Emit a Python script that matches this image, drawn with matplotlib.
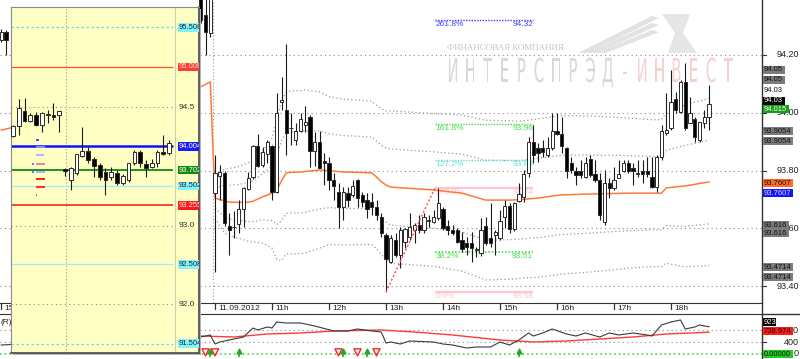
import matplotlib
matplotlib.use("Agg")
import matplotlib.pyplot as plt
import matplotlib.transforms as mtransforms
from matplotlib.patches import Rectangle, Polygon, PathPatch
from matplotlib.textpath import TextPath
from matplotlib.font_manager import FontProperties
import numpy as np

plt.rcParams['font.family'] = ['Liberation Sans', 'DejaVu Sans']

# ---------------- data: 5 min candles of 11.09.2012 (index 0 = 10:00) ----------------
opens = [93.722, 93.781, 93.792, 93.608, 93.604, 93.615, 93.667, 93.736, 93.778, 93.885,
         93.819, 93.857, 93.885, 93.726, 94.037, 94.010, 93.948, 93.906, 93.937, 93.958,
         93.986, 93.868, 93.899, 93.833, 93.826, 93.767, 93.726, 93.674, 93.722, 93.716,
         93.767, 93.716, 93.698, 93.691, 93.674, 93.639, 93.577, 93.484, 93.560, 93.508,
         93.553, 93.570, 93.594, 93.612, 93.594, 93.625, 93.622, 93.636, 93.667, 93.608,
         93.594, 93.594, 93.560, 93.550, 93.550, 93.525, 93.515, 93.608, 93.567, 93.577,
         93.567, 93.639, 93.678, 93.598, 93.695, 93.709, 93.792, 93.899, 93.878, 93.878,
         93.854, 93.878, 93.937, 93.927, 93.878, 93.826, 93.799, 93.799, 93.778, 93.840,
         93.788, 93.767, 93.622, 93.757, 93.740, 93.774, 93.799, 93.826, 93.809, 93.789,
         93.799, 93.799, 93.778, 93.743, 93.847, 93.930, 93.947, 94.048, 94.003, 94.107,
         93.965, 93.979, 93.906, 93.965, 93.986]
highs = [93.854, 93.820, 93.800, 93.653, 93.660, 93.698, 93.743, 93.795, 93.889, 93.927,
         93.881, 93.905, 93.889, 94.069, 94.124, 94.238, 94.000, 93.965, 94.000, 94.024,
         93.993, 93.934, 93.937, 93.861, 93.847, 93.792, 93.757, 93.743, 93.743, 93.767,
         93.771, 93.726, 93.722, 93.722, 93.698, 93.653, 93.584, 93.577, 93.584, 93.605,
         93.601, 93.653, 93.619, 93.646, 93.653, 93.646, 93.664, 93.740, 93.674, 93.629,
         93.612, 93.601, 93.588, 93.570, 93.588, 93.536, 93.636, 93.639, 93.688, 93.594,
         93.664, 93.698, 93.688, 93.691, 93.757, 93.802, 93.916, 93.958, 93.896, 93.906,
         93.916, 94.000, 94.000, 93.986, 93.881, 93.847, 93.812, 93.837, 93.847, 93.854,
         93.837, 93.792, 93.802, 93.774, 93.812, 93.837, 93.837, 93.837, 93.826, 93.837,
         93.837, 93.847, 93.847, 93.854, 93.958, 94.069, 94.148, 94.072, 94.114, 94.172,
         94.055, 93.986, 93.968, 94.010, 94.096]
lows = [93.449, 93.700, 93.608, 93.508, 93.567, 93.584, 93.605, 93.733, 93.771, 93.812,
        93.812, 93.826, 93.698, 93.722, 94.010, 93.854, 93.889, 93.889, 93.935, 93.934,
        93.812, 93.816, 93.809, 93.750, 93.733, 93.698, 93.601, 93.629, 93.674, 93.709,
        93.674, 93.674, 93.636, 93.646, 93.629, 93.570, 93.380, 93.480, 93.501, 93.463,
        93.532, 93.560, 93.550, 93.584, 93.584, 93.605, 93.619, 93.629, 93.594, 93.577,
        93.577, 93.550, 93.518, 93.508, 93.484, 93.501, 93.505, 93.543, 93.536, 93.508,
        93.560, 93.601, 93.584, 93.591, 93.691, 93.691, 93.778, 93.826, 93.830, 93.847,
        93.847, 93.871, 93.923, 93.861, 93.774, 93.792, 93.750, 93.774, 93.774, 93.778,
        93.760, 93.629, 93.612, 93.705, 93.733, 93.774, 93.795, 93.792, 93.750, 93.778,
        93.757, 93.778, 93.740, 93.726, 93.837, 93.923, 93.940, 94.000, 94.000, 93.940,
        93.965, 93.899, 93.899, 93.947, 93.940]
closes = [93.792, 93.795, 93.619, 93.594, 93.606, 93.667, 93.740, 93.774, 93.885, 93.816,
          93.864, 93.899, 93.726, 94.000, 94.044, 93.930, 93.946, 93.937, 93.979, 93.968,
          93.868, 93.899, 93.809, 93.826, 93.767, 93.747, 93.674, 93.726, 93.698, 93.747,
          93.705, 93.691, 93.667, 93.674, 93.646, 93.584, 93.494, 93.567, 93.508, 93.594,
          93.598, 93.605, 93.612, 93.594, 93.639, 93.627, 93.639, 93.688, 93.601, 93.594,
          93.584, 93.553, 93.529, 93.536, 93.532, 93.526, 93.594, 93.550, 93.550, 93.588,
          93.626, 93.678, 93.598, 93.688, 93.719, 93.788, 93.899, 93.854, 93.861, 93.864,
          93.878, 93.937, 93.927, 93.885, 93.799, 93.802, 93.785, 93.785, 93.826, 93.785,
          93.767, 93.646, 93.757, 93.740, 93.767, 93.788, 93.826, 93.799, 93.799, 93.788,
          93.788, 93.788, 93.743, 93.847, 93.937, 93.940, 94.037, 94.010, 94.107, 93.947,
          94.000, 93.916, 93.968, 93.986, 94.030]

# previous session candles still visible at the edges
prev_idx = [-45, -44, -3, -2, -1]
prev_open = [94.252, 94.280, 94.420, 94.338, 94.276]
prev_high = [94.290, 94.285, 94.450, 94.400, 94.460]
prev_low = [94.245, 94.200, 94.310, 94.200, 94.262]
prev_close = [94.280, 94.252, 94.321, 94.280, 94.420]

# VWAP and its deviation (bands at +-1 and +-2 sigma)
band_idx = [0, 2, 3, 5, 7, 8, 10, 12, 13, 14, 15, 16, 18, 19, 22, 24, 27, 30, 33, 34,
            35, 36, 37, 46, 52, 57, 58, 62, 64, 68, 72, 73, 79, 87, 92, 94, 95, 96, 99, 104]
vwap = [93.705, 93.695, 93.691, 93.690, 93.691, 93.694, 93.709, 93.722, 93.733, 93.765,
        93.792, 93.794, 93.795, 93.797, 93.802, 93.800, 93.795, 93.794, 93.792, 93.778,
        93.762, 93.750, 93.743, 93.733, 93.722, 93.698, 93.698, 93.698, 93.699, 93.705,
        93.714, 93.716, 93.719, 93.722, 93.722, 93.722, 93.740, 93.742, 93.747, 93.7607]
sigma = [0.035, 0.055, 0.058, 0.062, 0.068, 0.070, 0.080, 0.095, 0.120, 0.138,
         0.140, 0.141, 0.141, 0.141, 0.135, 0.128, 0.126, 0.125, 0.124, 0.124,
         0.126, 0.128, 0.132, 0.132, 0.135, 0.138, 0.138, 0.137, 0.136, 0.137,
         0.137, 0.137, 0.135, 0.130, 0.127, 0.127, 0.130, 0.133, 0.140, 0.1447]
prev_vwap_idx = [-45, -43, -3, -1]
prev_vwap = [93.940, 93.948, 94.090, 94.107]

# Fibonacci retracement drawn from the 13h low to the 13:55 high
fib_low, fib_high = 93.38, 93.74
fib_levels = [0.0, 38.2, 100.0, 127.2, 161.8, 261.8]
fib_texts = ["0.0%", "38.2%", "100.0%", "127.2%", "161.8%", "261.8%"]
fib_prices = ["93.38", "93.51", "93.74", "93.83", "93.96", "94.32"]

# lower indicator
ind_idx = [-45, -43, -3, -1, 0, 1, 4, 6, 8, 9, 11, 12, 13, 15, 18, 21, 25, 28, 30, 33, 35, 36,
           37, 39, 41, 46, 48, 50, 53, 55, 58, 60, 62, 64, 66, 67, 69, 71, 74, 76, 78, 81,
           83, 85, 88, 91, 92, 94, 96, 98, 99, 101, 102, 104]
ind_black = [305, 320, 576, 644, 339, 407, 509, 576, 881, 814, 915, 881, 1085, 1051, 1051, 949,
             780, 780, 848, 780, 746, 373, 407, 339, 441, 407, 339, 305, 203, 237, 237, 407,
             305, 475, 712, 610, 712, 848, 678, 610, 712, 576, 712, 644, 712, 644, 610, 983,
             1085, 1153, 848, 915, 983, 923]
red_idx = [-3, 4, 11, 18, 25, 35, 42, 50, 60, 67, 74, 81, 88, 95, 104]
ind_red = [610, 576, 678, 712, 780, 814, 746, 644, 475, 407, 441, 509, 576, 678, 739]
sell_idx = [-2, 0, 26, 30, 34]
buy_idx = [-1, 5, 27, 32, 64]

# time axis
tick_idx = [-45, 0, 12, 24, 36, 48, 60, 72, 84, 96]
tick_text = ["15h", "11.09.2012", "11h", "12h", "13h", "14h", "15h", "16h", "17h", "18h"]

# inset (higher timeframe) candles
in_open = [94.133, 94.259, 94.449, 94.323, 94.399, 94.272, 94.400, 94.399, 94.399,
           93.715, 93.576, 93.665, 93.880, 93.943, 93.842, 93.766, 93.677, 93.614, 93.665,
           93.538, 93.576, 93.791, 93.930, 93.778, 93.741, 93.791, 93.930, 93.918]
in_high = [94.272, 94.601, 94.614, 94.424, 94.437, 94.437, 94.462, 94.551, 94.449,
           93.728, 93.740, 93.905, 94.247, 93.994, 93.867, 93.791, 93.728, 93.741, 93.703,
           93.652, 93.791, 93.956, 93.956, 93.829, 93.842, 93.956, 94.146, 94.082]
in_low = [94.120, 94.146, 94.310, 94.310, 94.259, 94.184, 94.297, 94.335, 94.184,
          93.627, 93.449, 93.639, 93.867, 93.791, 93.614, 93.576, 93.386, 93.576, 93.513,
          93.513, 93.551, 93.766, 93.741, 93.614, 93.728, 93.741, 93.892, 93.892]
in_close = [94.259, 94.487, 94.323, 94.399, 94.272, 94.424, 94.398, 94.373, 94.449,
            93.690, 93.728, 93.905, 93.943, 93.829, 93.753, 93.614, 93.576, 93.677, 93.538,
            93.627, 93.791, 93.930, 93.791, 93.728, 93.791, 93.930, 93.905, 94.044]
in_levels = [95.508, 95.008, 94.004, 93.702, 93.502, 93.255, 92.508, 91.504]
in_grid = [94.5, 93.0, 92.0]
in_marks = [94.082, 93.994, 93.892, 93.778, 93.677, 93.589, 93.487, 93.386]

# ---------------- figure ----------------
W, H, DPI = 800, 359, 100
fig = plt.figure(figsize=(W / DPI, H / DPI), dpi=DPI)
fig.patch.set_facecolor('white')
# pixel coordinates, origin at top left
pix = mtransforms.Affine2D().scale(1 / DPI, -1 / DPI).translate(0, H / DPI) + fig.dpi_scale_trans


def fig_rect(x0, y0, x1, y1):
    return [x0 / W, 1 - y1 / H, (x1 - x0) / W, (y1 - y0) / H]


def draw_candles(a, idx, o, h, l, c, width, min_h, lw=0.8):
    for x, op, hi, lo, cl in zip(idx, o, h, l, c):
        a.vlines(x, lo, hi, color='#1a1a1a', lw=lw, zorder=3)
        fc = 'white' if cl >= op else 'black'
        a.add_patch(Rectangle((x - width / 2, min(op, cl)), width, max(abs(cl - op), min_h),
                              fc=fc, ec='#2a2a2a', lw=0.7, zorder=3.1))


# main price chart: x in 5-minute bars, 4.75 px each, bar 0 at x=215
XMIN, XMAX = -215 / 4.75, 547 / 4.75
YMIN, YMAX = 93.3419, 94.3903
ax = fig.add_axes(fig_rect(0, 0, 762, 303))
ax.set_facecolor('white')
for s in ('top', 'left', 'right'):
    ax.spines[s].set_visible(False)
ax.spines['bottom'].set_color('#333333')
ax.set_xticks([])
ax.set_yticks([])

for p in [94.2, 94.0, 93.8, 93.6, 93.4]:
    ax.axhline(p, color='#8a8a8a', lw=0.8, ls=(0, (1, 3)), zorder=1)
ax.axvline(-0.45, color='#999999', lw=0.8, ls=(0, (1, 2)), zorder=1)

# watermark
ax.text(447, 48, "ФИНАНСОВАЯ КОМПАНИЯ", transform=pix, fontsize=6.5,
        family=['Liberation Serif', 'DejaVu Serif'], color='#c6c6c6', va='center', ha='left', zorder=0.5)
fp = FontProperties(family='DejaVu Sans')
brand = "ИНТЕРСПРЭД-ИНВЕСТ"
for k, ch in enumerate(brand):
    tp = TextPath((0, 0), ch, size=1, prop=fp)
    ext = tp.get_extents()
    tr = (mtransforms.Affine2D().translate(-(ext.x0 + ext.x1) / 2, 0).scale(15, -33)
          .translate(453 + 17.2 * k, 82) + pix)
    ax.add_patch(PathPatch(tp, transform=tr, fc='#d8d8d8' if k < 11 else '#f9d0d0',
                           ec='none', zorder=0.5))
for k in range(3):
    ax.add_patch(Polygon([(578 + 9 * k, 53), (652, 16 + 7 * k), (659, 18 + 7 * k), (588 + 9 * k, 53)],
                         closed=True, transform=pix, fc='#e2e2e2', ec='none', zorder=0.4))
ax.add_patch(Polygon([(662, 14), (690, 14), (683, 33), (697, 53), (668, 53), (675, 33)],
                     closed=True, transform=pix, fc='#e6e6e6', ec='none', zorder=0.4))

# vwap bands
bi = np.array(band_idx)
bv = np.array(vwap)
bs = np.array(sigma)
for k in (-2, -1, 1, 2):
    ax.plot(bi, bv + k * bs, color='#9a9a9a', lw=0.9, ls=(0, (1, 2)), zorder=2)
ax.plot(prev_vwap_idx + band_idx, prev_vwap + vwap, color='#ff7a3a', lw=1.1, zorder=2.5)

# fibonacci
fib_x0, fib_x1 = 46.3, 67.0
ax.plot([36, fib_x0], [fib_low, fib_high], color='#ff4a4a', lw=1.0, ls=(0, (1.5, 1.5)), zorder=4)
fib_style = {0.0: ('#ffc4cc', 1.6, '-'), 38.2: ('#44e044', 1.2, (0, (1, 1))),
             100.0: ('#ffc4cc', 1.6, '-'), 127.2: ('#66dede', 1.0, (0, (1, 1))),
             161.8: ('#44e044', 1.0, (0, (1, 1))), 261.8: ('#4040ff', 1.0, (0, (1, 1)))}
for lvl, txt, ptxt in zip(fib_levels, fib_texts, fib_prices):
    price = fib_low + lvl / 100 * (fib_high - fib_low)
    col, lw, ls = fib_style[lvl]
    ax.hlines(price, fib_x0, fib_x1, color=col, lw=lw, ls=ls, zorder=2.2)
    ax.text(fib_x0 + 0.1, price - 0.004, txt, fontsize=6, color=col, va='top', ha='left', zorder=2.3)
    ax.text(fib_x1, price - 0.004, ptxt, fontsize=6, color=col, va='top', ha='right', zorder=2.3)

draw_candles(ax, range(len(opens)), opens, highs, lows, closes, 0.65, 0.0025)
draw_candles(ax, prev_idx, prev_open, prev_high, prev_low, prev_close, 0.65, 0.0025)

xt = ax.get_xaxis_transform()
for t, lab in zip(tick_idx, tick_text):
    ax.plot([t, t], [0, -6 / 303], transform=xt, color='#333333', lw=0.9, clip_on=False)
    ax.text(t + 0.6, -0.008, lab, transform=xt, fontsize=6, color='#222222',
            va='top', ha='left', clip_on=False)
ax.set_xlim(XMIN, XMAX)
ax.set_ylim(YMIN, YMAX)

# indicator panel
IYMIN, IYMAX = -169.5, 1356
ind = fig.add_axes(fig_rect(0, 314, 762, 359))
ind.set_facecolor('white')
for s in ('bottom', 'left', 'right'):
    ind.spines[s].set_visible(False)
ind.spines['top'].set_color('#333333')
ind.set_xticks([])
ind.set_yticks([])
for v in (800, 400):
    ind.axhline(v, color='#8a8a8a', lw=0.8, ls=(0, (1, 3)))
ind.axhline(0, color='#33cc33', lw=1.1, ls=(0, (1, 2)))
ind.plot(red_idx, ind_red, color='#ff3a3a', lw=1.0)
ind.plot(ind_idx, ind_black, color='#3a3a3a', lw=0.8)
ind.scatter(sell_idx, [55] * len(sell_idx), marker='v', s=26, facecolors='none',
            edgecolors='#ff2020', linewidths=1.0, zorder=5)
ind.vlines(buy_idx, -100, 90, color='#22aa22', lw=1.2, zorder=5)
ind.scatter(buy_idx, [110] * len(buy_idx), marker='^', s=12, color='#22aa22', zorder=5)
ind.text(-45.2, 1060, "(R)", fontsize=6, color='#222222', va='center', ha='left')
ind.set_xlim(XMIN, XMAX)
ind.set_ylim(IYMIN, IYMAX)

# inset chart (x in its own bars, 5.78 px each)
JMIN, JMAX = (11 - 13) / 5.78, (199 - 13) / 5.78
PMIN, PMAX = 91.386, 95.766
fig.add_artist(Rectangle((13 / W, 1 - 355 / H), 188 / W, 346 / H, transform=fig.transFigure,
                         fc='#b4b4b4', ec='none', zorder=4))
ins = fig.add_axes(fig_rect(11, 7, 199, 353), zorder=5)
ins.set_facecolor('#ffffc4')
ins.set_xticks([])
ins.set_yticks([])
for s in ('left', 'top'):
    ins.spines[s].set_color('#8a8a8a')
for s in ('right', 'bottom'):
    ins.spines[s].set_color('#555555')
    ins.spines[s].set_linewidth(1.3)
scale_j = (175 - 13) / 5.78
ins.axvline(scale_j, color='#cfcfb0', lw=0.8)
ins.axvline((66 - 13) / 5.78, color='#999999', lw=0.8, ls=(0, (1, 2)))
for p in in_grid:
    ins.hlines(p, JMIN, scale_j, color='#8a8a8a', lw=0.8, ls=(0, (1, 3)))
lvl_style = {95.508: ('#66dcec', 0.9, (0, (2, 2))), 95.008: ('#ff5030', 0.9, '-'),
             94.004: ('#1010ff', 1.8, '-'), 93.702: ('#108a10', 1.3, '-'),
             93.502: ('#9eeefa', 0.9, '-'), 93.255: ('#ff1010', 1.1, '-'),
             92.508: ('#9eeefa', 0.9, '-'), 91.504: ('#66dcec', 0.9, (0, (2, 2)))}
for p in in_levels:
    col, lw, ls = lvl_style[p]
    ins.hlines(p, JMIN, scale_j - 0.3, color=col, lw=lw, ls=ls, zorder=2)
mark_col = ['#5050ff', '#7f8cff', '#aabbff', '#ff8080', '#a8b8ff', '#ff2020', '#ff3030', '#ff5050']
mark_len = [0.45, 1.5, 1.3, 1.5, 1.5, 1.5, 1.5, 0.2]
for p, col, ln in zip(in_marks, mark_col, mark_len):
    ins.add_patch(Rectangle((4.0, p - 0.018), ln, 0.036, fc=col, ec='none', zorder=2.5))
for p in in_marks[3:5]:
    ins.add_patch(Rectangle((3.3, p - 0.015), 0.25, 0.03, fc='#7070ff', ec='none', zorder=2.5))
draw_candles(ins, range(len(in_open)), in_open, in_high, in_low, in_close, 0.65, 0.01)

lab_j = (178.5 - 13) / 5.78
lab_style = {95.508: ('#80f4ff', '#222222'), 95.008: ('#ff3a30', '#ffe0e0'),
             94.004: ('#1a1aff', '#ffffff'), 93.702: ('#128a12', '#ffffff'),
             93.502: ('#80f4ff', '#222222'), 93.255: ('#ff1a1a', '#ffe8e8'),
             92.508: ('#80f4ff', '#222222'), 91.504: ('#80f4ff', '#222222')}
for p in in_levels:
    bg, fg = lab_style[p]
    ins.add_patch(Rectangle((lab_j - 0.1, p - 0.055), 6, 0.11, fc=bg, ec='none', zorder=6))
    ins.text(lab_j, p, f"{p:.3f}", fontsize=5.5, color=fg, va='center', ha='left',
             zorder=7, clip_on=True)
for p in in_grid:
    ins.text(lab_j, p, f"{p:.1f}", fontsize=6, color='#333333', va='center', ha='left',
             zorder=7, clip_on=True)
ins.set_xlim(JMIN, JMAX)
ins.set_ylim(PMIN, PMAX)

# overlay in pixel coordinates: price scale and value boxes
ov = fig.add_axes([0, 0, 1, 1], zorder=10)
ov.set_xlim(0, W)
ov.set_ylim(H, 0)
ov.axis('off')
ov.plot([762, 762], [0, H], color='#333333', lw=1)
ov.plot([762, W], [314, 314], color='#333333', lw=1)


def my(p):
    return (YMAX - p) / (YMAX - YMIN) * 303


def iy(v):
    return 314 + (IYMAX - v) / (IYMAX - IYMIN) * 45


for p in [94.2, 94.0, 93.8, 93.6, 93.4]:
    ov.plot([762, 766], [my(p), my(p)], color='#333333', lw=0.8)
    ov.text(799, my(p), f"{p:.2f}", fontsize=6.5, color='#222222', va='center', ha='right')
for v, txt in [(800, "800"), (400, "400"), (0, "0")]:
    ov.plot([762, 766], [iy(v), iy(v)], color='#333333', lw=0.8)
    ov.text(799, iy(v), txt, fontsize=6.5, color='#222222', va='center', ha='right')


def box(y, txt, bg, fg):
    w = 4.1 * len(txt) + 1
    if bg is not None:
        ov.add_patch(Rectangle((763, y - 4), w, 8, fc=bg, ec='none', zorder=3))
    ov.text(764, y + 0.3, txt, fontsize=5.5, color=fg, va='center', ha='left', zorder=4)


GRAY, GTXT = '#7c7c7c', '#111111'
last = closes[-1]
up2 = vwap[-1] + 2 * sigma[-1]
up1 = vwap[-1] + sigma[-1]
dn1 = vwap[-1] - sigma[-1]
dn2 = vwap[-1] - 2 * sigma[-1]
box(my(last) - 34.5, "94.05", GRAY, GTXT)
box(my(last) - 24.5, "94.05", GRAY, GTXT)
box(my(last) - 14, "94.03", None, '#111111')
box(my(last) - 3.5, "94.03", '#000000', '#ffffff')
box(my(94.015) + 0.5, "94.015", '#14a014', '#ffffff')
box(my(up1) - 9, "93.9054", GRAY, GTXT)
box(my(up1) + 1, "93.9054", GRAY, GTXT)
box(my(vwap[-1]) + 1, "93.7607", '#ff6a2a', '#111111')
box(my(vwap[-1]) + 11, "93.7607", '#1414ff', '#d8d8ff')
box(my(dn1) + 1, "93.616", GRAY, GTXT)
box(my(dn1) + 9.5, "93.616", GRAY, GTXT)
box(my(dn2) + 1.5, "93.4714", GRAY, GTXT)
box(my(dn2) + 11.5, "93.4714", GRAY, GTXT)
box(iy(ind_black[-1]) - 5, "923", '#000000', '#ffffff')
box(iy(ind_red[-1]) - 1, "738.974", '#ff1a1a', '#111111')
box(iy(0), "0.00000", '#22cc22', '#111111')

fig.savefig("out.png", dpi=DPI, facecolor='white')
